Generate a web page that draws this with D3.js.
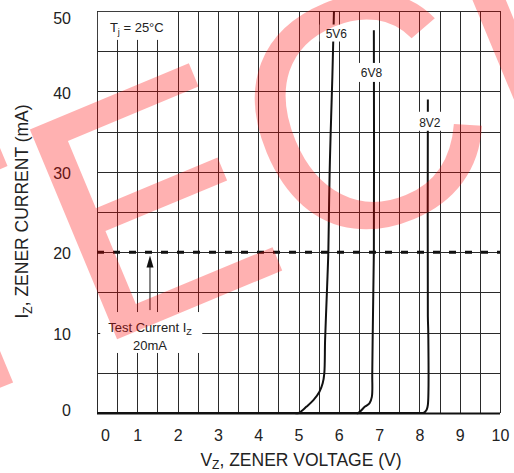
<!DOCTYPE html>
<html>
<head>
<meta charset="utf-8">
<script src="https://cdn.jsdelivr.net/npm/d3@7"></script>
<style>
  html, body { margin: 0; padding: 0; background: #fff; }
  svg { display: block; font-family: "Liberation Sans", Arial, sans-serif; }
</style>
</head>
<body>
<div id="chart"></div>
<script>
/* Zener characteristics — I_Z vs V_Z at Tj = 25°C */

/* axis ticks */
const xTicks  = [0, 1, 2, 3, 4, 5, 6, 7, 8, 9, 10];
const yTicks  = [0, 10, 20, 30, 40, 50];
const xGrid   = [0, 0.5, 1, 1.5, 2, 2.5, 3, 3.5, 4, 4.5, 5, 5.5, 6, 6.5, 7, 7.5, 8, 8.5, 9, 9.5, 10];
const yGrid   = [0, 5, 10, 15, 20, 25, 30, 35, 40, 45, 50];

/* curves: volts, mA */
const zener5V6 = [
  { v: 0, i: 0 }, { v: 4.9, i: 0 }, { v: 5.0, i: 0 }, { v: 5.2, i: 0.8 }, { v: 5.37, i: 1.6 },
  { v: 5.52, i: 2.65 }, { v: 5.6, i: 3.7 }, { v: 5.64, i: 4.9 }, { v: 5.66, i: 9.1 },
  { v: 5.71, i: 15.7 }, { v: 5.74, i: 20 }, { v: 5.76, i: 26.5 }, { v: 5.78, i: 31.5 },
  { v: 5.81, i: 36.8 }, { v: 5.84, i: 41.8 }, { v: 5.88, i: 50 },
];
const zener6V8 = [
  { v: 0, i: 0 }, { v: 6.4, i: 0 }, { v: 6.48, i: 0 }, { v: 6.65, i: 0.8 }, { v: 6.76, i: 1.2 },
  { v: 6.82, i: 2.0 }, { v: 6.83, i: 4.9 }, { v: 6.84, i: 9.1 }, { v: 6.87, i: 20 },
  { v: 6.87, i: 47.6 },
];
const zener8V2 = [
  { v: 0, i: 0 }, { v: 8.05, i: 0 }, { v: 8.1, i: 0 }, { v: 8.18, i: 0.4 }, { v: 8.21, i: 1.0 },
  { v: 8.22, i: 10 }, { v: 8.21, i: 12 }, { v: 8.21, i: 39 },
];
const seriesNames = ['5V6', '6V8', '8V2'];
const testCurrent = 20;

const W = 514, H = 473;
const X0 = 97, X1 = 500, Y0 = 11, Y1 = 413;
const FONT = '"Liberation Sans", Arial, sans-serif';

const svg = d3.select('#chart').append('svg')
  .attr('width', W).attr('height', H)
  .attr('viewBox', `0 0 ${W} ${H}`);

svg.append('rect').attr('width', W).attr('height', H).attr('fill', '#fff');

const x = d3.scaleLinear().domain([0, 10]).range([X0, X1]);
const y = d3.scaleLinear().domain([0, 50]).range([Y1, Y0]);

/* grid */
const gx = svg.append('g')
  .attr('transform', `translate(0,${Y1})`)
  .call(d3.axisBottom(x).tickValues(xGrid).tickSize(-(Y1 - Y0)).tickFormat(''));
const gy = svg.append('g')
  .attr('transform', `translate(${X0},0)`)
  .call(d3.axisLeft(y).tickValues(yGrid).tickSize(-(X1 - X0)).tickFormat(''));
[gx, gy].forEach(g => {
  g.select('.domain').remove();
  g.selectAll('line')
    .attr('stroke', '#2a2a2a').attr('stroke-width', 1)
    .attr('shape-rendering', 'crispEdges');
});

/* bottom axis line */
svg.append('line')
  .attr('x1', X0).attr('x2', X1).attr('y1', Y1 + 0.5).attr('y2', Y1 + 0.5)
  .attr('stroke', '#111').attr('stroke-width', 2);

/* tick labels */
const ax = svg.append('g')
  .attr('transform', `translate(0,${Y1})`)
  .call(d3.axisBottom(x).tickValues(xTicks).tickSize(0).tickPadding(17).tickFormat(d3.format('d')));
ax.select('.domain').remove();
ax.selectAll('text').attr('font-size', 16).attr('font-family', FONT).attr('fill', '#222')
  .attr('dx', d => d === 0 ? 8 : 0);

const ay = svg.append('g')
  .attr('transform', `translate(${X0},0)`)
  .call(d3.axisLeft(y).tickValues(yTicks).tickSize(0).tickPadding(26).tickFormat(d3.format('d')));
ay.select('.domain').remove();
ay.selectAll('text').attr('font-size', 16).attr('font-family', FONT).attr('fill', '#222')
  .attr('transform', d => d === 50 ? 'translate(0,7)' : d === 0 ? 'translate(0,-3)' : 'translate(0,1.5)');

/* axis titles */
const xt = svg.append('text')
  .attr('x', 301).attr('y', 466)
  .attr('text-anchor', 'middle')
  .attr('font-size', 17.5).attr('font-family', FONT).attr('fill', '#222');
xt.append('tspan').text('V');
xt.append('tspan').attr('font-size', 12).attr('dy', 3).text('Z');
xt.append('tspan').attr('dy', -3).text(', ZENER VOLTAGE (V)');

const yt = svg.append('text')
  .attr('transform', 'rotate(-90)')
  .attr('x', -211.5).attr('y', 28)
  .attr('text-anchor', 'middle')
  .attr('font-size', 17.5).attr('font-family', FONT).attr('fill', '#222');
yt.append('tspan').text('I');
yt.append('tspan').attr('font-size', 12).attr('dy', 4).text('Z');
yt.append('tspan').attr('dy', -4).text(', ZENER CURRENT (mA)');

/* test current line */
svg.append('line')
  .attr('x1', x(0)).attr('x2', x(10))
  .attr('y1', y(testCurrent)).attr('y2', y(testCurrent))
  .attr('stroke', '#111').attr('stroke-width', 3)
  .attr('stroke-dasharray', '7,9');

/* zener curves */
const line = d3.line()
  .x(d => x(d.v)).y(d => y(d.i))
  .curve(d3.curveCatmullRom.alpha(0.5));

svg.append('g')
  .selectAll('path')
  .data([zener5V6, zener6V8, zener8V2])
  .join('path')
  .attr('d', line)
  .attr('fill', 'none')
  .attr('stroke', '#111')
  .attr('stroke-width', 2);

/* labels sitting on white boxes; pad = [left, right, top, bottom] */
function boxedLabel(g, pad) {
  const b = g.node().getBBox();
  g.insert('rect', ':first-child')
    .attr('x', b.x - pad[0]).attr('y', b.y - pad[2])
    .attr('width', b.width + pad[0] + pad[1])
    .attr('height', b.height + pad[2] + pad[3])
    .attr('fill', '#fff');
}

const curveLabelPos = [
  { v: 5.94, i: 46.7, pad: [6, 5, 2, 1] },
  { v: 6.81, i: 41.8, pad: [4, 4, 3, 2] },
  { v: 8.26, i: 35.6, pad: [4, 4, 4, 1] },
];
seriesNames.forEach((name, k) => {
  const p = curveLabelPos[k];
  const g = svg.append('g');
  g.append('text')
    .attr('x', x(p.v)).attr('y', y(p.i))
    .attr('text-anchor', 'middle')
    .attr('font-size', 12).attr('font-family', FONT).attr('fill', '#222')
    .text(name);
  boxedLabel(g, p.pad);
});

/* Tj note */
const tj = svg.append('g');
const tjText = tj.append('text')
  .attr('x', x(0.32)).attr('y', y(47.4))
  .attr('font-size', 13).attr('font-family', FONT).attr('fill', '#222');
tjText.append('tspan').text('T');
tjText.append('tspan').attr('font-size', 9).attr('dy', 3).text('j');
tjText.append('tspan').attr('dy', -3).text(' = 25°C');
boxedLabel(tj, [12, 6, 8, 3]);

/* test current note + arrow */
const tc = svg.append('g');
const tcText = tc.append('text')
  .attr('x', x(1.315)).attr('y', y(10.07))
  .attr('text-anchor', 'middle')
  .attr('font-size', 13).attr('font-family', FONT).attr('fill', '#222');
tcText.append('tspan').text('Test Current I');
tcText.append('tspan').attr('font-size', 9).attr('dy', 3).text('Z');
tc.append('text')
  .attr('x', x(1.315)).attr('y', y(7.84))
  .attr('text-anchor', 'middle')
  .attr('font-size', 13).attr('font-family', FONT).attr('fill', '#222')
  .text('20mA');
boxedLabel(tc, [8, 10, 8, 0]);

const ax0 = x(1.315);
svg.append('line')
  .attr('x1', ax0).attr('x2', ax0)
  .attr('y1', y(12.8)).attr('y2', y(18.5))
  .attr('stroke', '#111').attr('stroke-width', 1);
svg.append('path')
  .attr('d', `M${ax0},${y(19.6)} L${ax0 - 3.5},${y(18.1)} L${ax0 + 3.5},${y(18.1)} Z`)
  .attr('fill', '#111');

/* watermark */
svg.append('text')
  .attr('transform', 'translate(-94,427) rotate(-22.6)')
  .attr('font-size', 330).attr('font-family', FONT)
  .attr('fill', '#ff0000').attr('opacity', 0.3)
  .attr('pointer-events', 'none')
  .text('TECH');
</script>
</body>
</html>
